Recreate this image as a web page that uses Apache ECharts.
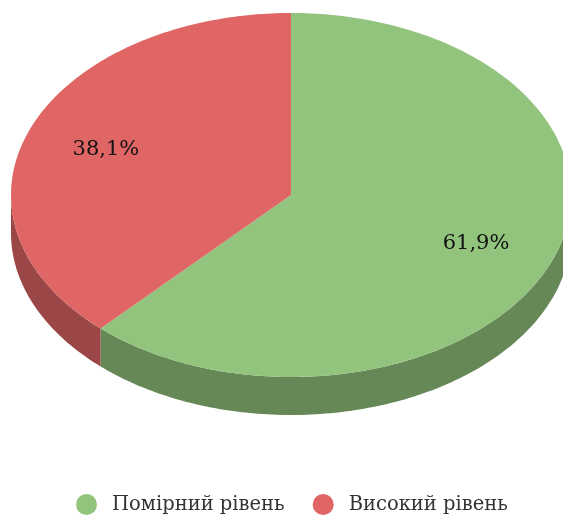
<!DOCTYPE html>
<html>
<head>
<meta charset="utf-8">
<style>
  html, body { margin: 0; padding: 0; background: #fff; }
  #chart { width: 563px; height: 516px; }
</style>
<script src="https://cdn.jsdelivr.net/npm/echarts@6/dist/echarts.min.js"></script>
</head>
<body>
<div id="chart"></div>
<script>
  const names = ['Помірний рівень', 'Високий рівень']
  const shares = [61.9, 38.1]
  const topColors = ['#93c47d', '#e06666']
  const sideColors = ['#668857', '#9c4747']

  // pie drawn as a tilted ellipse, angles run clockwise from 12 o'clock
  const cx = 291, cy = 195, rx = 280, ry = 182, depth = 38
  const total = shares.reduce((a, b) => a + b, 0)

  const ellipsePoint = (deg, dy = 0, k = 1) => {
    const a = deg * Math.PI / 180
    return [cx + rx * k * Math.sin(a), cy - ry * k * Math.cos(a) + dy]
  }

  const arcPoints = (from, to, dy = 0) => {
    const pts = []
    const steps = Math.max(1, Math.ceil(Math.abs(to - from)))
    for (let i = 0; i <= steps; i++) {
      pts.push(ellipsePoint(from + (to - from) * i / steps, dy))
    }
    return pts
  }

  const makeSeries = idx => {
    const start = shares.slice(0, idx).reduce((a, b) => a + b, 0) / total * 360
    const end = start + shares[idx] / total * 360
    const mid = (start + end) / 2
    return {
      type: 'custom',
      name: names[idx],
      coordinateSystem: 'none',
      itemStyle: { color: topColors[idx] },
      data: [shares[idx]],
      renderItem: () => {
        const children = []
        // only the front half of the rim is visible
        const sideFrom = Math.max(start, 90)
        const sideTo = Math.min(end, 270)
        if (sideTo > sideFrom) {
          const upper = arcPoints(sideFrom, sideTo)
          const lower = arcPoints(sideFrom, sideTo, depth).reverse()
          children.push({
            type: 'polygon',
            shape: { points: upper.concat(lower) },
            style: { fill: sideColors[idx] }
          })
        }
        children.push({
          type: 'polygon',
          shape: { points: [[cx, cy]].concat(arcPoints(start, end)) },
          style: { fill: topColors[idx] }
        })
        const labelPos = ellipsePoint(mid, 1.5, 0.71)
        children.push({
          type: 'text',
          x: labelPos[0],
          y: labelPos[1],
          style: {
            text: shares[idx].toFixed(1).replace('.', ',') + '%',
            fill: '#111',
            fontFamily: 'DejaVu Serif',
            fontSize: 21,
            align: 'center',
            verticalAlign: 'middle'
          }
        })
        return { type: 'group', children }
      }
    }
  }

  const chartInstance = echarts.init(document.getElementById('chart'))
  chartInstance.setOption({
    animation: false,
    legend: {
      data: names,
      left: 71,
      top: 489,
      icon: 'circle',
      itemWidth: 21,
      itemHeight: 21,
      itemGap: 28,
      textStyle: {
        fontFamily: 'DejaVu Serif',
        fontSize: 19.5,
        color: '#333',
        padding: [0, 0, 0, 10]
      }
    },
    series: names.map((n, i) => makeSeries(i))
  })
</script>
</body>
</html>
